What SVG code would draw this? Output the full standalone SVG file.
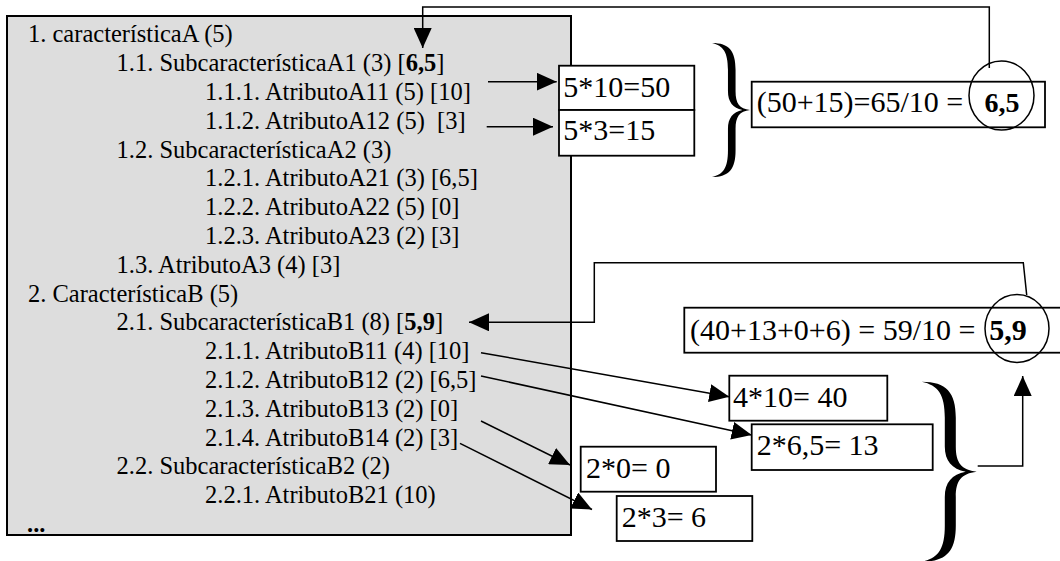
<svg xmlns="http://www.w3.org/2000/svg" width="1060" height="561" viewBox="0 0 1060 561">
<style>
text{font-family:"Liberation Serif","Times New Roman",serif;fill:#000}
.t{font-size:24.5px}
.bx{font-size:30px}
.b{font-weight:bold}
.box{fill:#fff;stroke:#000;stroke-width:1.8}
.ln{fill:none;stroke:#000;stroke-width:1.5}
.arr{marker-end:url(#ah)}
</style>
<defs>
<marker id="ah" markerUnits="userSpaceOnUse" markerWidth="20" markerHeight="18" viewBox="0 0 20 18" refX="20" refY="9" orient="auto"><path d="M0,0 L20,9 L0,18 Z" fill="#000"/></marker>
<path id="brace" fill="#000" d="M0,0 C0.45,0 0.62,0.06 0.62,0.2 L0.62,0.36 C0.62,0.45 0.72,0.49 1,0.5 C0.72,0.51 0.62,0.55 0.62,0.64 L0.62,0.8 C0.62,0.94 0.45,1 0,1 C0.3,0.98 0.42,0.93 0.42,0.8 L0.42,0.64 C0.42,0.56 0.55,0.515 0.8,0.5 C0.55,0.485 0.42,0.44 0.42,0.36 L0.42,0.2 C0.42,0.07 0.3,0.02 0,0 Z"/>
</defs>
<rect x="0" y="0" width="1060" height="561" fill="#fff"/>

<g id="tree" font-family="Liberation Serif, Times New Roman, serif">
<rect x="7" y="16" width="564" height="519" fill="#dddddd" stroke="#000" stroke-width="2"/>
<text class="t" x="28" y="42.3">1. característicaA (5)</text>
<text class="t" x="116.5" y="71.1">1.1. SubcaracterísticaA1 (3) [<tspan class="b">6,5</tspan>]</text>
<text class="t" x="205" y="99.9">1.1.1. AtributoA11 (5) [10]</text>
<text class="t" x="205" y="128.7">1.1.2. AtributoA12 (5) &#160;[3]</text>
<text class="t" x="116.5" y="157.5">1.2. SubcaracterísticaA2 (3)</text>
<text class="t" x="205" y="186.3">1.2.1. AtributoA21 (3) [6,5]</text>
<text class="t" x="205" y="215.1">1.2.2. AtributoA22 (5) [0]</text>
<text class="t" x="205" y="243.9">1.2.3. AtributoA23 (2) [3]</text>
<text class="t" x="116.5" y="272.7">1.3. AtributoA3 (4) [3]</text>
<text class="t" x="28" y="301.5">2. CaracterísticaB (5)</text>
<text class="t" x="116.5" y="330.3">2.1. SubcaracterísticaB1 (8) [<tspan class="b">5,9</tspan>]</text>
<text class="t" x="205" y="359.1">2.1.1. AtributoB11 (4) [10]</text>
<text class="t" x="205" y="387.9">2.1.2. AtributoB12 (2) [6,5]</text>
<text class="t" x="205" y="416.7">2.1.3. AtributoB13 (2) [0]</text>
<text class="t" x="205" y="445.5">2.1.4. AtributoB14 (2) [3]</text>
<text class="t" x="116.5" y="474.3">2.2. SubcaracterísticaB2 (2)</text>
<text class="t" x="205" y="503.1">2.2.1. AtributoB21 (10)</text>
<text class="t b" x="27" y="532">...</text>
</g>

<g id="boxA1">
<rect class="box" x="559" y="65.7" width="135.3" height="44.3"/>
<text class="bx" x="563.3" y="96.5">5*10=50</text>
</g>
<g id="boxA2">
<rect class="box" x="559" y="110" width="135.3" height="45.7"/>
<text class="bx" x="563.3" y="140">5*3=15</text>
</g>

<g id="resultA">
<rect class="box" x="751.7" y="81.7" width="293.3" height="45.6"/>
<text class="bx" x="756.7" y="111.7">(50+15)=65/10 =</text>
<text class="bx b" x="1002" y="111.7" text-anchor="middle" style="font-size:28px">6,5</text>
<ellipse cx="1001.5" cy="95.5" rx="32.5" ry="34.5" fill="none" stroke="#000" stroke-width="1.5"/>
</g>

<g id="braceA"><use href="#brace" transform="translate(712,43) scale(38,134)"/></g>

<g id="resultB">
<rect class="box" x="684.3" y="307.7" width="400" height="45"/>
<text class="bx" x="690" y="340">(40+13+0+6) = 59/10 =</text>
<text class="bx b" x="989.3" y="340">5,9</text>
<ellipse cx="1017" cy="328.5" rx="32" ry="34" fill="none" stroke="#000" stroke-width="1.5"/>
</g>

<g id="boxB1">
<rect class="box" x="729.3" y="375.7" width="158" height="45"/>
<text class="bx" x="733" y="406.7">4*10= 40</text>
</g>
<g id="boxB2">
<rect class="box" x="751.7" y="424.3" width="181" height="45.7"/>
<text class="bx" x="756.7" y="455">2*6,5= 13</text>
</g>
<g id="boxB3">
<rect class="box" x="580.7" y="446.7" width="135.3" height="45"/>
<text class="bx" x="586" y="478.3">2*0= 0</text>
</g>
<g id="boxB4">
<rect class="box" x="616.7" y="496" width="135.6" height="45"/>
<text class="bx" x="621.7" y="526.7">2*3= 6</text>
</g>

<g id="braceB"><use href="#brace" transform="translate(921.7,381.7) scale(55,180)"/></g>

<g id="connectors">
<polyline class="ln arr" points="989.3,68 989.3,7 422.7,7 422.7,48"/>
<polyline class="ln arr" points="1026.7,295 1023.3,262.7 594.3,262.7 594.3,322.3 469,322.3"/>
<line class="ln arr" x1="488" y1="81.7" x2="556.7" y2="81.7"/>
<line class="ln arr" x1="486.7" y1="126.7" x2="553" y2="126.7"/>
<line class="ln arr" x1="481" y1="352.7" x2="729.3" y2="396.7"/>
<line class="ln arr" x1="481" y1="376" x2="751.7" y2="435"/>
<line class="ln arr" x1="481" y1="421" x2="570" y2="465"/>
<line class="ln arr" x1="460" y1="443.3" x2="592" y2="509.5"/>
<polyline class="ln arr" points="977.7,466 1022.7,466 1022.7,376"/>
</g>
</svg>
